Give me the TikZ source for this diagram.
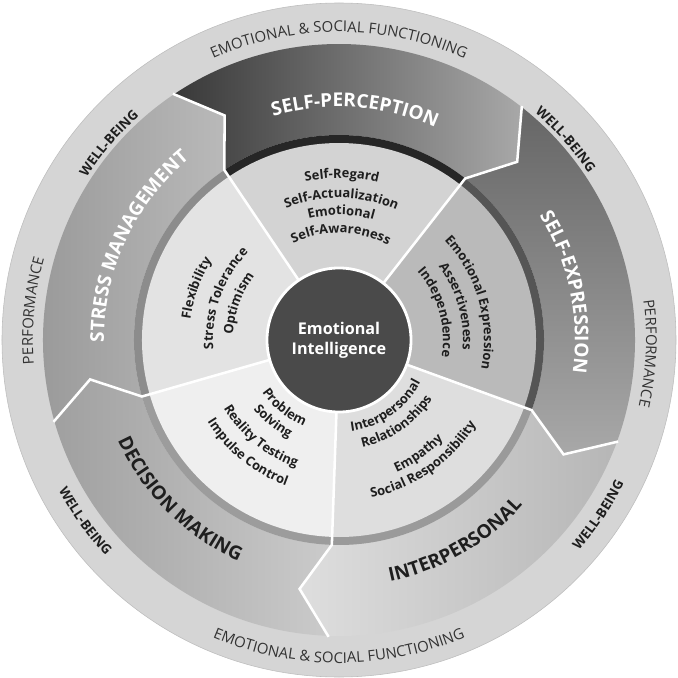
\documentclass[tikz,border=0pt]{standalone}
\usepackage{fontspec}
\setmainfont{Open Sans}
\usetikzlibrary{decorations.text}

\definecolor{bandfill}{HTML}{D5D5D5}
\definecolor{bandline}{HTML}{BDBDBD}
\definecolor{coregray}{HTML}{4A4A4A}
\definecolor{txtdark}{HTML}{1E1E1E}
\definecolor{bandtext}{HTML}{333333}
% segment shading
\definecolor{spdark}{HTML}{383838}
\definecolor{splight}{HTML}{A8A8A8}
\definecolor{sedark}{HTML}{666666}
\definecolor{selight}{HTML}{A8A8A8}
\definecolor{ipdark}{HTML}{B6B6B6}
\definecolor{iplight}{HTML}{DEDEDE}
\definecolor{dmdark}{HTML}{A0A0A0}
\definecolor{dmlight}{HTML}{CBCBCB}
\definecolor{smdark}{HTML}{979797}
\definecolor{smlight}{HTML}{B9B9B9}
% pie sectors and rim
\definecolor{piesp}{HTML}{D3D3D3}
\definecolor{piese}{HTML}{BABABA}
\definecolor{pieip}{HTML}{DEDEDE}
\definecolor{piedm}{HTML}{EFEFEF}
\definecolor{piesm}{HTML}{E3E3E3}
\definecolor{rimsp}{HTML}{262626}
\definecolor{rimse}{HTML}{555555}
\definecolor{rimip}{HTML}{9A9A9A}
\definecolor{rimdm}{HTML}{9C9C9C}
\definecolor{rimsm}{HTML}{8C8C8C}

\newcommand{\piefont}{\fontsize{9.2}{11}\selectfont\bfseries}
\newcommand{\segfont}{\fontsize{13.5}{15}\selectfont\bfseries}
\newcommand{\bandfont}{\fontsize{10.6}{12}\selectfont}
\newcommand{\wbfont}{\fontsize{9.5}{11}\selectfont\bfseries}

% text on a circle: clockwise (tops outward) and counter-clockwise (tops inward)
\newcommand{\cwlabel}[4][]{\path[arctext={#4},decoration={#1}]
  ({#2+80}:#3) arc[start angle={#2+80},end angle={#2-80},radius=#3];}
\newcommand{\ccwlabel}[4][]{\path[arctext={#4},decoration={#1}]
  ({#2-80}:#3) arc[start angle={#2-80},end angle={#2+80},radius=#3];}

\begin{document}
\begin{tikzpicture}[x=0.025cm,y=0.025cm,
  gap/.style={draw=white,line width=1.8pt,line join=miter},
  arctext/.style={decorate,decoration={text along path,text align=center,
    text color=txtdark,text={#1}}},
  core/.style={circle,fill=coregray,draw=white,line width=2pt,minimum size=3.6cm,
    inner sep=0pt,align=center,text=white,font=\bfseries\fontsize{11.5}{14.5}\selectfont},
]
\useasboundingbox (-339,-338) rectangle (339,340);

% === Outer band ===
\fill[bandfill,draw=bandline,line width=0.4pt] (0,0) circle[radius=337];

% === Segments (chevrons pointing clockwise) ===
\shade[left color=spdark,right color=splight]
  (124:205) arc[start angle=124,end angle=52,radius=205] -- (45:252) -- (52:296)
  arc[start angle=52,end angle=124,radius=296] -- (117:252) -- cycle;
\shade[top color=sedark,bottom color=selight]
  (52:205) arc[start angle=52,end angle=-20,radius=205] -- (-27:252) -- (-20:296)
  arc[start angle=-20,end angle=52,radius=296] -- (45:252) -- cycle;
\shade[shading angle=60,left color=iplight,right color=ipdark]
  (-20:205) arc[start angle=-20,end angle=-92,radius=205] -- (-99:252) -- (-92:296)
  arc[start angle=-92,end angle=-20,radius=296] -- (-27:252) -- cycle;
\shade[shading angle=-45,left color=dmdark,right color=dmlight]
  (268:205) arc[start angle=268,end angle=196,radius=205] -- (189:252) -- (196:296)
  arc[start angle=196,end angle=268,radius=296] -- (261:252) -- cycle;
\shade[shading angle=20,left color=smdark,right color=smlight]
  (196:205) arc[start angle=196,end angle=124,radius=205] -- (117:252) -- (124:296)
  arc[start angle=124,end angle=196,radius=296] -- (189:252) -- cycle;

% === Pie sectors with rim ===
\foreach \a/\pie/\rim in {52/piesp/rimsp,124/piesm/rimsm,196/piedm/rimdm,
                           268/pieip/rimip,340/piese/rimse}{
  \fill[\rim] (0,0) -- (\a:205) arc[start angle=\a,end angle={\a+72},radius=205] -- cycle;
  \fill[\pie] (0,0) -- (\a:197) arc[start angle=\a,end angle={\a+72},radius=197] -- cycle;
}

% === White dividers ===
\foreach \a in {52,124,196,268,340}
  \draw[gap] (\a:70) -- (\a:205) -- ({\a-7}:252) -- (\a:297);

% === Core ===
\node[core] (ei) at (0,0) {Emotional\\Intelligence};

% === Band labels ===
\cwlabel[text color=bandtext]{90}{308}{|\bandfont|EMOTIONAL {\&} SOCIAL FUNCTIONING}
\ccwlabel[text color=bandtext]{270}{323}{|\bandfont|EMOTIONAL {\&} SOCIAL FUNCTIONING}
\cwlabel[text color=bandtext]{174.5}{306}{|\bandfont|PERFORMANCE}
\cwlabel[text color=bandtext]{-2.5}{307}{|\bandfont|PERFORMANCE}
\cwlabel{139.5}{300}{|\wbfont|WELL-BEING}
\cwlabel{41.5}{300}{|\wbfont|WELL-BEING}
\ccwlabel{215.5}{318}{|\wbfont|WELL-BEING}
\ccwlabel{-34}{319}{|\wbfont|WELL-BEING}

% === Segment titles ===
\cwlabel[text color=white]{86}{233}{|\segfont|SELF-PERCEPTION}
\cwlabel[text color=white]{12}{236}{|\segfont|SELF-EXPRESSION}
\cwlabel[text color=white]{155}{235}{|\segfont|STRESS MANAGEMENT}
\ccwlabel{-60}{247}{|\segfont|INTERPERSONAL}
\ccwlabel{225}{243}{|\segfont|DECISION MAKING}

% === Subscales ===
\cwlabel{89}{162}{|\piefont|Self-Regard}
\cwlabel{89}{142}{|\piefont|Self-Actualization}
\cwlabel{89}{125}{|\piefont|Emotional}
\cwlabel{89}{107}{|\piefont|Self-Awareness}

\cwlabel{16}{145}{|\piefont|Emotional Expression}
\cwlabel{16}{124}{|\piefont|Assertiveness}
\cwlabel{16}{104}{|\piefont|Independence}

\ccwlabel{-55}{92}{|\piefont|Interpersonal}
\ccwlabel{-55}{110}{|\piefont|Relationships}
\ccwlabel{-55}{144}{|\piefont|Empathy}
\ccwlabel{-55}{161}{|\piefont|Social Responsibility}

\ccwlabel{231}{93}{|\piefont|Problem}
\ccwlabel{231}{110}{|\piefont|Solving}
\ccwlabel{231}{134}{|\piefont|Reality Testing}
\ccwlabel{231}{155}{|\piefont|Impulse Control}

\cwlabel{160}{150}{|\piefont|Flexibility}
\cwlabel{160}{126}{|\piefont|Stress Tolerance}
\cwlabel{160}{106}{|\piefont|Optimism}

\end{tikzpicture}
\end{document}
